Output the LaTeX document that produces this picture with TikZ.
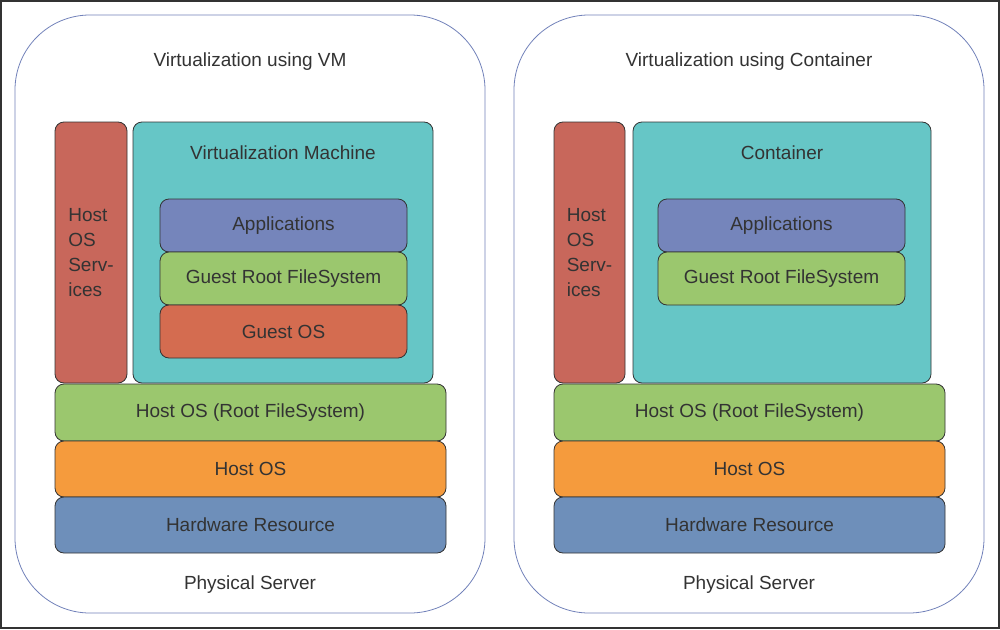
\documentclass[tikz,border=0pt]{standalone}
\usepackage{fontspec}
\setmainfont{Liberation Sans}
\definecolor{svcred}{HTML}{C8675B}
\definecolor{vmteal}{HTML}{66C6C6}
\definecolor{appblue}{HTML}{7585BB}
\definecolor{fsgreen}{HTML}{9BC76E}
\definecolor{hostorange}{HTML}{F59B3D}
\definecolor{guestred}{HTML}{D46C50}
\definecolor{hwblue}{HTML}{6E8FBA}
\definecolor{panelline}{HTML}{7282BA}
\definecolor{inktext}{HTML}{333333}
\tikzset{
  panel/.style={draw=panelline, line width=0.8pt, rounded corners=75pt,
    minimum width=470pt, minimum height=598pt},
  layer/.style={draw=inktext, line width=0.8pt, rounded corners=9pt,
    text=inktext, font=\fontsize{19}{25}\selectfont, inner sep=0pt},
  caption/.style={text=inktext, font=\fontsize{19}{23}\selectfont}
}
\begin{document}
\begin{tikzpicture}[x=1pt,y=-1pt]
  \useasboundingbox (0,0) rectangle (1000,629);
  \fill[white] (0,0) rectangle (1000,629);
  \draw[inktext, line width=2pt] (1,1) rectangle (999,628);

  % left: virtual machine
  \node[panel] (panelL) at (250,314) {};
  \node[caption] (titleL) at (250,62) {Virtualization using VM};
  \node[layer, fill=svcred, minimum width=72pt, minimum height=261pt,
    align=left] (svcL) at (91,252.5) {Host\\OS\\Serv-\\ices};
  \node[layer, fill=vmteal, minimum width=300pt, minimum height=261pt] (vmL) at (283,252.5) {};
  \node[caption] (vmtitle) at (283,153) {Virtualization Machine};
  \node[layer, fill=appblue, minimum width=247pt, minimum height=53pt] (appL) at (283.5,225.5) {Applications};
  \node[layer, fill=fsgreen, minimum width=247pt, minimum height=53pt] (gfsL) at (283.5,278.5) {Guest Root FileSystem};
  \node[layer, fill=guestred, minimum width=247pt, minimum height=53pt] (gosL) at (283.5,331.5) {Guest OS};
  \node[layer, fill=fsgreen, minimum width=391pt, minimum height=57pt] (hfsL) at (250.5,412.5) {Host OS (Root FileSystem)};
  \node[layer, fill=hostorange, minimum width=391pt, minimum height=56pt] (hosL) at (250.5,469) {Host OS};
  \node[layer, fill=hwblue, minimum width=391pt, minimum height=56pt] (hwL) at (250.5,525) {Hardware Resource};
  \node[caption] (physL) at (250,585) {Physical Server};

  % right: container
  \node[panel] (panelR) at (749,314) {};
  \node[caption] (titleR) at (749,62) {Virtualization using Container};
  \node[layer, fill=svcred, minimum width=71pt, minimum height=261pt,
    align=left] (svcR) at (589.5,252.5) {Host\\OS\\Serv-\\ices};
  \node[layer, fill=vmteal, minimum width=298pt, minimum height=261pt] (ctR) at (782,252.5) {};
  \node[caption] (cttitle) at (782,153) {Container};
  \node[layer, fill=appblue, minimum width=247pt, minimum height=53pt] (appR) at (781.5,225.5) {Applications};
  \node[layer, fill=fsgreen, minimum width=247pt, minimum height=53pt] (gfsR) at (781.5,278.5) {Guest Root FileSystem};
  \node[layer, fill=fsgreen, minimum width=391pt, minimum height=57pt] (hfsR) at (749.5,412.5) {Host OS (Root FileSystem)};
  \node[layer, fill=hostorange, minimum width=391pt, minimum height=56pt] (hosR) at (749.5,469) {Host OS};
  \node[layer, fill=hwblue, minimum width=391pt, minimum height=56pt] (hwR) at (749.5,525) {Hardware Resource};
  \node[caption] (physR) at (749,585) {Physical Server};
\end{tikzpicture}
\end{document}
